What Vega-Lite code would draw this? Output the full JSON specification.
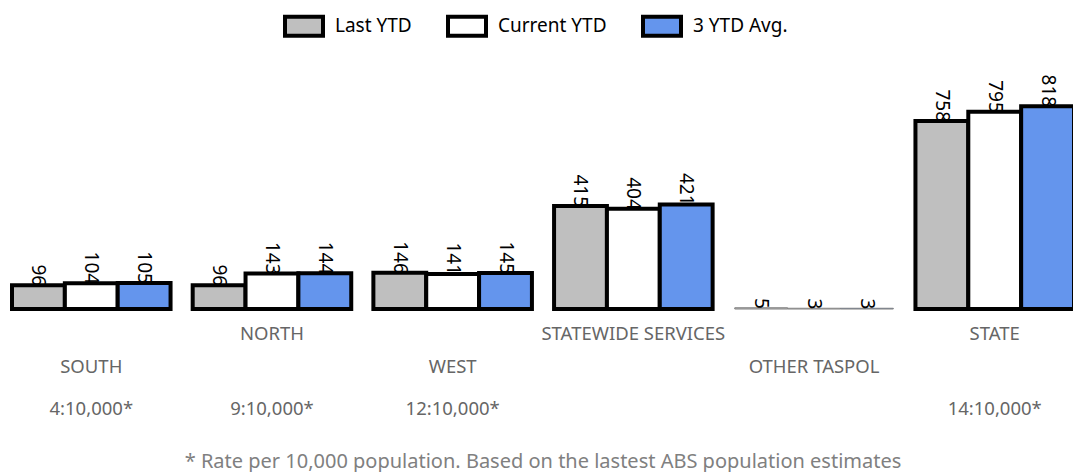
{
  "$schema": "https://vega.github.io/schema/vega-lite/v6.json",
  "width": 1062,
  "height": 248,
  "padding": {"left": 10, "right": 0, "top": 5, "bottom": 0},
  "autosize": {"type": "pad"},
  "background": "white",
  "config": {"view": {"stroke": null}, "font": "Noto Sans"},
  "title": {
    "text": "* Rate per 10,000 population. Based on the lastest ABS population estimates",
    "orient": "bottom",
    "anchor": "middle",
    "fontSize": 20,
    "fontWeight": "normal",
    "font": "Noto Sans",
    "color": "#808080",
    "offset": 34
  },
  "data": {
    "values": [
      {"group": "SOUTH", "series": "Last YTD", "value": 96},
      {"group": "SOUTH", "series": "Current YTD", "value": 104},
      {"group": "SOUTH", "series": "3 YTD Avg.", "value": 105},
      {"group": "NORTH", "series": "Last YTD", "value": 96},
      {"group": "NORTH", "series": "Current YTD", "value": 143},
      {"group": "NORTH", "series": "3 YTD Avg.", "value": 144},
      {"group": "WEST", "series": "Last YTD", "value": 146},
      {"group": "WEST", "series": "Current YTD", "value": 141},
      {"group": "WEST", "series": "3 YTD Avg.", "value": 145},
      {"group": "STATEWIDE SERVICES", "series": "Last YTD", "value": 415},
      {"group": "STATEWIDE SERVICES", "series": "Current YTD", "value": 404},
      {"group": "STATEWIDE SERVICES", "series": "3 YTD Avg.", "value": 421},
      {"group": "OTHER TASPOL", "series": "Last YTD", "value": 5},
      {"group": "OTHER TASPOL", "series": "Current YTD", "value": 3},
      {"group": "OTHER TASPOL", "series": "3 YTD Avg.", "value": 3},
      {"group": "STATE", "series": "Last YTD", "value": 758},
      {"group": "STATE", "series": "Current YTD", "value": 795},
      {"group": "STATE", "series": "3 YTD Avg.", "value": 818}
    ]
  },
  "encoding": {
    "xOffset": {
      "field": "series",
      "type": "nominal",
      "sort": ["Last YTD", "Current YTD", "3 YTD Avg."],
      "scale": {"paddingInner": 0, "paddingOuter": 0}
    },
    "y": {
      "field": "value",
      "type": "quantitative",
      "scale": {"domain": [0, 1000]},
      "axis": null
    }
  },
  "resolve": {"axis": {"x": "independent"}},
  "layer": [
    {
      "mark": {"type": "bar"},
      "encoding": {
        "x": {
          "field": "group",
          "type": "nominal",
          "sort": ["SOUTH", "NORTH", "WEST", "STATEWIDE SERVICES", "OTHER TASPOL", "STATE"],
          "scale": {"paddingInner": 0.1225, "paddingOuter": 0},
          "axis": {
            "orient": "bottom",
            "title": null,
            "domain": false,
            "ticks": false,
            "labelAngle": 0,
            "labelPadding": {"condition": {"test": "indexof(['NORTH','STATEWIDE SERVICES','STATE'], datum.value) >= 0", "value": 15}, "value": 48},
            "labelFont": "Noto Sans",
            "labelFontSize": 18.5,
            "labelColor": "#666666",
            "labelLimit": 0,
            "labelOverlap": false
          }
        },
        "color": {
          "field": "series",
          "type": "nominal",
          "sort": ["Last YTD", "Current YTD", "3 YTD Avg."],
          "scale": {
            "domain": ["Last YTD", "Current YTD", "3 YTD Avg."],
            "range": ["#BFBFBF", "#FFFFFF", "#6495ED"]
          },
          "legend": {
            "title": null,
            "orient": "none",
            "direction": "horizontal",
            "legendX": 271,
            "legendY": -56,
            "symbolType": "M-1,-0.5H1V0.5H-1Z",
            "symbolSize": 1444,
            "symbolStrokeColor": "black",
            "symbolStrokeWidth": 4,
            "symbolOpacity": 1,
            "symbolFillOpacity": 1,
            "labelFont": "Noto Sans",
            "labelFontSize": 19,
            "labelColor": "black",
            "labelOffset": 10,
            "columnPadding": 28
          }
        },
        "stroke": {"condition": {"test": "datum.value < 10", "value": "#808080"}, "value": "black"},
        "strokeWidth": {"condition": {"test": "datum.value < 10", "value": 1}, "value": 4}
      }
    },
    {
      "mark": {"type": "text", "angle": 90, "align": "right", "baseline": "middle", "dx": 1, "fontSize": 19, "font": "Noto Sans", "color": "black"},
      "encoding": {
        "x": {
          "field": "group",
          "type": "nominal",
          "sort": ["SOUTH", "NORTH", "WEST", "STATEWIDE SERVICES", "OTHER TASPOL", "STATE"],
          "axis": {
            "orient": "bottom",
            "title": null,
            "domain": false,
            "ticks": false,
            "labelAngle": 0,
            "values": ["SOUTH", "NORTH", "WEST", "STATE"],
            "labelPadding": 90,
            "labelFont": "Noto Sans",
            "labelFontSize": 18.5,
            "labelColor": "#666666",
            "labelLimit": 0,
            "labelOverlap": false,
            "labelExpr": "datum.value == 'SOUTH' ? '4:10,000*' : datum.value == 'NORTH' ? '9:10,000*' : datum.value == 'WEST' ? '12:10,000*' : '14:10,000*'"
          }
        },
        "text": {"field": "value", "type": "quantitative"}
      }
    }
  ]
}
